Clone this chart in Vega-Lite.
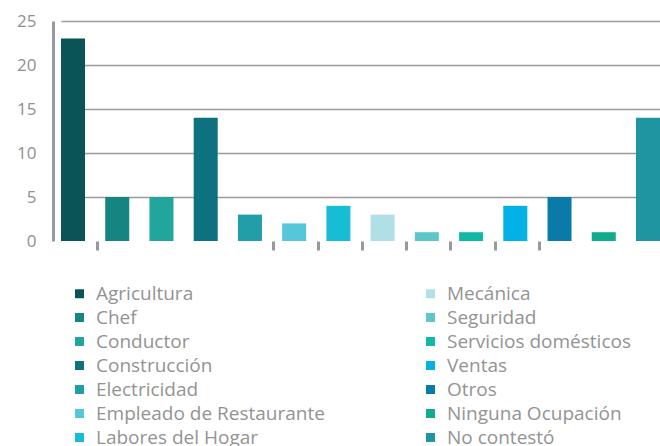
{
  "$schema": "https://vega.github.io/schema/vega-lite/v6.json",
  "width": 607,
  "height": 220,
  "autosize": {"type": "none"},
  "padding": {"left": 53, "top": 21, "right": 0, "bottom": 205},
  "background": "#ffffff",
  "config": {"view": {"stroke": null}, "font": "Open Sans"},
  "data": {
    "values": [
      {"ocupacion": "Agricultura", "valor": 23},
      {"ocupacion": "Chef", "valor": 5},
      {"ocupacion": "Conductor", "valor": 5},
      {"ocupacion": "Construcción", "valor": 14},
      {"ocupacion": "Electricidad", "valor": 3},
      {"ocupacion": "Empleado de Restaurante", "valor": 2},
      {"ocupacion": "Labores del Hogar", "valor": 4},
      {"ocupacion": "Mecánica", "valor": 3},
      {"ocupacion": "Seguridad", "valor": 1},
      {"ocupacion": "Servicios domésticos", "valor": 1},
      {"ocupacion": "Ventas", "valor": 4},
      {"ocupacion": "Otros", "valor": 5},
      {"ocupacion": "Ninguna Ocupación", "valor": 1},
      {"ocupacion": "No contestó", "valor": 14}
    ]
  },
  "mark": {"type": "bar"},
  "encoding": {
    "x": {
      "field": "ocupacion",
      "type": "nominal",
      "sort": ["Agricultura", "Chef", "Conductor", "Construcción", "Electricidad", "Empleado de Restaurante", "Labores del Hogar", "Mecánica", "Seguridad", "Servicios domésticos", "Ventas", "Otros", "Ninguna Ocupación", "No contestó"],
      "scale": {"range": [8, 607], "paddingInner": 0.457, "paddingOuter": 0},
      "axis": {
        "title": null,
        "labels": false,
        "domain": false,
        "grid": false,
        "bandPosition": 1.5,
        "ticks": true,
        "tickColor": "#9a9a9e",
        "tickWidth": 3,
        "tickSize": 9,
        "tickOpacity": {
          "condition": {"test": "indexof(['Agricultura','Electricidad','Empleado de Restaurante','Labores del Hogar','Mecánica','Seguridad','Servicios domésticos','Ventas'], datum.value) >= 0", "value": 1},
          "value": 0
        }
      }
    },
    "y": {
      "field": "valor",
      "type": "quantitative",
      "scale": {"domain": [0, 25]},
      "axis": {
        "title": null,
        "values": [0, 5, 10, 15, 20, 25],
        "ticks": false,
        "domain": true,
        "domainColor": "#9a9a9e",
        "domainWidth": 3,
        "labelColor": "#8f8f8f",
        "labelFontSize": 17,
        "labelPadding": 17,
        "gridColor": "#9a9a9e",
        "gridWidth": 1.5,
        "gridOpacity": {"condition": {"test": "datum.value === 0", "value": 0}, "value": 1}
      }
    },
    "color": {
      "field": "ocupacion",
      "type": "nominal",
      "scale": {
        "domain": ["Agricultura", "Chef", "Conductor", "Construcción", "Electricidad", "Empleado de Restaurante", "Labores del Hogar", "Mecánica", "Seguridad", "Servicios domésticos", "Ventas", "Otros", "Ninguna Ocupación", "No contestó"],
        "range": ["#0a5458", "#168480", "#21a59d", "#0d7180", "#219ea8", "#58c6da", "#17bcd5", "#b0dfe6", "#5ec6c8", "#0fb9a6", "#02b1e6", "#0a7ba8", "#13ab8d", "#1e95a0"]
      },
      "legend": {
        "title": null,
        "orient": "none",
        "legendX": 17,
        "legendY": 263,
        "columns": 2,
        "columnPadding": 96,
        "rowPadding": 4,
        "symbolType": "square",
        "symbolSize": 81,
        "symbolStrokeWidth": 0,
        "labelOffset": 7,
        "labelFontSize": 19,
        "labelColor": "#939393",
        "labelLimit": 400
      }
    }
  }
}
